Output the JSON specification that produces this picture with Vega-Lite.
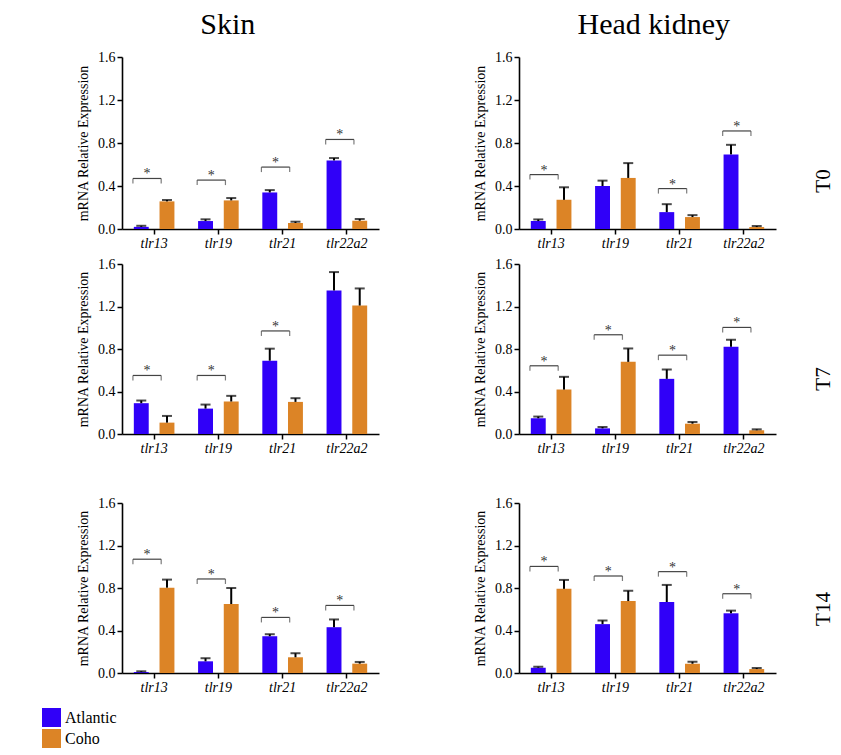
{
 "$schema": "https://vega.github.io/schema/vega-lite/v6.json",
 "padding": {"left": 42, "top": 10, "right": 0, "bottom": 0},
 "background": "white",
 "datasets": {
  "bars": [
   {"tissue": "Skin", "time": "T0", "gene": "tlr13", "species": "Atlantic", "mean": 0.02, "upper": 0.03},
   {"tissue": "Skin", "time": "T0", "gene": "tlr13", "species": "Coho", "mean": 0.257, "upper": 0.27},
   {"tissue": "Skin", "time": "T0", "gene": "tlr19", "species": "Atlantic", "mean": 0.074, "upper": 0.09},
   {"tissue": "Skin", "time": "T0", "gene": "tlr19", "species": "Coho", "mean": 0.266, "upper": 0.288},
   {"tissue": "Skin", "time": "T0", "gene": "tlr21", "species": "Atlantic", "mean": 0.34, "upper": 0.362},
   {"tissue": "Skin", "time": "T0", "gene": "tlr21", "species": "Coho", "mean": 0.056, "upper": 0.068},
   {"tissue": "Skin", "time": "T0", "gene": "tlr22a2", "species": "Atlantic", "mean": 0.638, "upper": 0.66},
   {"tissue": "Skin", "time": "T0", "gene": "tlr22a2", "species": "Coho", "mean": 0.077, "upper": 0.093},
   {"tissue": "Head kidney", "time": "T0", "gene": "tlr13", "species": "Atlantic", "mean": 0.074, "upper": 0.089},
   {"tissue": "Head kidney", "time": "T0", "gene": "tlr13", "species": "Coho", "mean": 0.271, "upper": 0.388},
   {"tissue": "Head kidney", "time": "T0", "gene": "tlr19", "species": "Atlantic", "mean": 0.4, "upper": 0.45},
   {"tissue": "Head kidney", "time": "T0", "gene": "tlr19", "species": "Coho", "mean": 0.475, "upper": 0.613},
   {"tissue": "Head kidney", "time": "T0", "gene": "tlr21", "species": "Atlantic", "mean": 0.157, "upper": 0.231},
   {"tissue": "Head kidney", "time": "T0", "gene": "tlr21", "species": "Coho", "mean": 0.111, "upper": 0.129},
   {"tissue": "Head kidney", "time": "T0", "gene": "tlr22a2", "species": "Atlantic", "mean": 0.694, "upper": 0.783},
   {"tissue": "Head kidney", "time": "T0", "gene": "tlr22a2", "species": "Coho", "mean": 0.018, "upper": 0.028},
   {"tissue": "Skin", "time": "T7", "gene": "tlr13", "species": "Atlantic", "mean": 0.29, "upper": 0.315},
   {"tissue": "Skin", "time": "T7", "gene": "tlr13", "species": "Coho", "mean": 0.107, "upper": 0.17},
   {"tissue": "Skin", "time": "T7", "gene": "tlr19", "species": "Atlantic", "mean": 0.239, "upper": 0.277},
   {"tissue": "Skin", "time": "T7", "gene": "tlr19", "species": "Coho", "mean": 0.306, "upper": 0.359},
   {"tissue": "Skin", "time": "T7", "gene": "tlr21", "species": "Atlantic", "mean": 0.69, "upper": 0.803},
   {"tissue": "Skin", "time": "T7", "gene": "tlr21", "species": "Coho", "mean": 0.302, "upper": 0.337},
   {"tissue": "Skin", "time": "T7", "gene": "tlr22a2", "species": "Atlantic", "mean": 1.351, "upper": 1.524},
   {"tissue": "Skin", "time": "T7", "gene": "tlr22a2", "species": "Coho", "mean": 1.209, "upper": 1.37},
   {"tissue": "Head kidney", "time": "T7", "gene": "tlr13", "species": "Atlantic", "mean": 0.148, "upper": 0.164},
   {"tissue": "Head kidney", "time": "T7", "gene": "tlr13", "species": "Coho", "mean": 0.418, "upper": 0.538},
   {"tissue": "Head kidney", "time": "T7", "gene": "tlr19", "species": "Atlantic", "mean": 0.053, "upper": 0.066},
   {"tissue": "Head kidney", "time": "T7", "gene": "tlr19", "species": "Coho", "mean": 0.679, "upper": 0.805},
   {"tissue": "Head kidney", "time": "T7", "gene": "tlr21", "species": "Atlantic", "mean": 0.519, "upper": 0.607},
   {"tissue": "Head kidney", "time": "T7", "gene": "tlr21", "species": "Coho", "mean": 0.097, "upper": 0.113},
   {"tissue": "Head kidney", "time": "T7", "gene": "tlr22a2", "species": "Atlantic", "mean": 0.821, "upper": 0.887},
   {"tissue": "Head kidney", "time": "T7", "gene": "tlr22a2", "species": "Coho", "mean": 0.035, "upper": 0.044},
   {"tissue": "Skin", "time": "T14", "gene": "tlr13", "species": "Atlantic", "mean": 0.009, "upper": 0.016},
   {"tissue": "Skin", "time": "T14", "gene": "tlr13", "species": "Coho", "mean": 0.803, "upper": 0.879},
   {"tissue": "Skin", "time": "T14", "gene": "tlr19", "species": "Atlantic", "mean": 0.11, "upper": 0.139},
   {"tissue": "Skin", "time": "T14", "gene": "tlr19", "species": "Coho", "mean": 0.649, "upper": 0.8},
   {"tissue": "Skin", "time": "T14", "gene": "tlr21", "species": "Atlantic", "mean": 0.346, "upper": 0.365},
   {"tissue": "Skin", "time": "T14", "gene": "tlr21", "species": "Coho", "mean": 0.148, "upper": 0.186},
   {"tissue": "Skin", "time": "T14", "gene": "tlr22a2", "species": "Atlantic", "mean": 0.431, "upper": 0.504},
   {"tissue": "Skin", "time": "T14", "gene": "tlr22a2", "species": "Coho", "mean": 0.088, "upper": 0.104},
   {"tissue": "Head kidney", "time": "T14", "gene": "tlr13", "species": "Atlantic", "mean": 0.05, "upper": 0.059},
   {"tissue": "Head kidney", "time": "T14", "gene": "tlr13", "species": "Coho", "mean": 0.792, "upper": 0.876},
   {"tissue": "Head kidney", "time": "T14", "gene": "tlr19", "species": "Atlantic", "mean": 0.46, "upper": 0.494},
   {"tissue": "Head kidney", "time": "T14", "gene": "tlr19", "species": "Coho", "mean": 0.677, "upper": 0.774},
   {"tissue": "Head kidney", "time": "T14", "gene": "tlr21", "species": "Atlantic", "mean": 0.668, "upper": 0.829},
   {"tissue": "Head kidney", "time": "T14", "gene": "tlr21", "species": "Coho", "mean": 0.087, "upper": 0.106},
   {"tissue": "Head kidney", "time": "T14", "gene": "tlr22a2", "species": "Atlantic", "mean": 0.562, "upper": 0.587},
   {"tissue": "Head kidney", "time": "T14", "gene": "tlr22a2", "species": "Coho", "mean": 0.037, "upper": 0.047}
  ],
  "sig": [
   {"tissue": "Skin", "time": "T0", "gene": "tlr13", "y": 0.47},
   {"tissue": "Skin", "time": "T0", "gene": "tlr19", "y": 0.455},
   {"tissue": "Skin", "time": "T0", "gene": "tlr21", "y": 0.576},
   {"tissue": "Skin", "time": "T0", "gene": "tlr22a2", "y": 0.833},
   {"tissue": "Head kidney", "time": "T0", "gene": "tlr13", "y": 0.506},
   {"tissue": "Head kidney", "time": "T0", "gene": "tlr21", "y": 0.376},
   {"tissue": "Head kidney", "time": "T0", "gene": "tlr22a2", "y": 0.912},
   {"tissue": "Skin", "time": "T7", "gene": "tlr13", "y": 0.551},
   {"tissue": "Skin", "time": "T7", "gene": "tlr19", "y": 0.551},
   {"tissue": "Skin", "time": "T7", "gene": "tlr21", "y": 0.97},
   {"tissue": "Head kidney", "time": "T7", "gene": "tlr13", "y": 0.642},
   {"tissue": "Head kidney", "time": "T7", "gene": "tlr19", "y": 0.934},
   {"tissue": "Head kidney", "time": "T7", "gene": "tlr21", "y": 0.742},
   {"tissue": "Head kidney", "time": "T7", "gene": "tlr22a2", "y": 1.003},
   {"tissue": "Skin", "time": "T14", "gene": "tlr13", "y": 1.071},
   {"tissue": "Skin", "time": "T14", "gene": "tlr19", "y": 0.885},
   {"tissue": "Skin", "time": "T14", "gene": "tlr21", "y": 0.523},
   {"tissue": "Skin", "time": "T14", "gene": "tlr22a2", "y": 0.636},
   {"tissue": "Head kidney", "time": "T14", "gene": "tlr13", "y": 1.003},
   {"tissue": "Head kidney", "time": "T14", "gene": "tlr19", "y": 0.913},
   {"tissue": "Head kidney", "time": "T14", "gene": "tlr21", "y": 0.954},
   {"tissue": "Head kidney", "time": "T14", "gene": "tlr22a2", "y": 0.746}
  ]
 },
 "hconcat": [
  {
   "title": {"text": "Skin", "fontSize": 30, "fontWeight": "normal", "anchor": "middle", "offset": 10},
   "spacing": 41,
   "vconcat": [
    {
     "spacing": 7,
     "vconcat": [
      {
       "width": 257, "height": 172,
       "encoding": {
        "x": {"field": "gene", "type": "nominal", "scale": {"domain": ["tlr13", "tlr19", "tlr21", "tlr22a2"], "paddingInner": 0, "paddingOuter": 0}, "axis": {"title": null, "labelAngle": 0, "labelFontStyle": "italic", "labelFont": "Liberation Serif"}},
        "y": {"field": "mean", "type": "quantitative", "scale": {"domain": [0, 1.6]}, "axis": {"values": [0, 0.4, 0.8, 1.2, 1.6], "format": ".1f", "title": "mRNA Relative Expression", "titlePadding": 7, "labelFont": "Liberation Serif", "titleFont": "Liberation Serif"}}
       },
       "layer": [
        {"data": {"name": "bars"}, "transform": [{"filter": "datum.tissue == 'Skin' && datum.time == 'T0'"}],
         "layer": [
          {"mark": {"type": "bar"}, "encoding": {"xOffset": {"field": "species", "type": "nominal", "scale": {"domain": ["Atlantic", "Coho"], "paddingInner": 0.42, "paddingOuter": 0.46}}, "color": {"field": "species", "type": "nominal", "title": null, "scale": {"domain": ["Atlantic", "Coho"], "range": ["#3000f8", "#dc8426"]}, "legend": {"labelFont": "Liberation Serif"}}}},
          {"mark": {"type": "rule", "color": "#000", "strokeWidth": 2}, "encoding": {"xOffset": {"field": "species", "type": "nominal"}, "y2": {"field": "upper"}}},
          {"mark": {"type": "tick", "orient": "horizontal", "color": "#000", "thickness": 2, "size": 10}, "encoding": {"xOffset": {"field": "species", "type": "nominal"}, "y": {"field": "upper", "type": "quantitative"}}}
         ]},
        {"data": {"name": "sig"}, "transform": [{"filter": "datum.tissue == 'Skin' && datum.time == 'T0'"}],
         "encoding": {"y": {"field": "y", "type": "quantitative"}},
         "layer": [
          {"mark": {"type": "rule", "color": "#444", "strokeWidth": 1.2}, "encoding": {"x": {"field": "gene", "type": "nominal", "bandPosition": 0.17}, "x2": {"field": "gene", "bandPosition": 0.61}}},
          {"mark": {"type": "tick", "orient": "vertical", "color": "#444", "thickness": 1.2, "size": 5, "yOffset": 2.5}, "encoding": {"x": {"field": "gene", "type": "nominal", "bandPosition": 0.17}}},
          {"mark": {"type": "tick", "orient": "vertical", "color": "#444", "thickness": 1.2, "size": 5, "yOffset": 2.5}, "encoding": {"x": {"field": "gene", "type": "nominal", "bandPosition": 0.61}}},
          {"mark": {"type": "text", "text": "*", "fontSize": 14, "baseline": "alphabetic", "color": "#333"}, "encoding": {"x": {"field": "gene", "type": "nominal", "bandPosition": 0.39}}}
         ]}
       ]
      },
      {
       "width": 257, "height": 170,
       "encoding": {
        "x": {"field": "gene", "type": "nominal", "scale": {"domain": ["tlr13", "tlr19", "tlr21", "tlr22a2"], "paddingInner": 0, "paddingOuter": 0}, "axis": {"title": null, "labelAngle": 0, "labelFontStyle": "italic", "labelFont": "Liberation Serif"}},
        "y": {"field": "mean", "type": "quantitative", "scale": {"domain": [0, 1.6]}, "axis": {"values": [0, 0.4, 0.8, 1.2, 1.6], "format": ".1f", "title": "mRNA Relative Expression", "titlePadding": 7, "labelFont": "Liberation Serif", "titleFont": "Liberation Serif"}}
       },
       "layer": [
        {"data": {"name": "bars"}, "transform": [{"filter": "datum.tissue == 'Skin' && datum.time == 'T7'"}],
         "layer": [
          {"mark": {"type": "bar"}, "encoding": {"xOffset": {"field": "species", "type": "nominal", "scale": {"domain": ["Atlantic", "Coho"], "paddingInner": 0.42, "paddingOuter": 0.46}}, "color": {"field": "species", "type": "nominal", "title": null, "scale": {"domain": ["Atlantic", "Coho"], "range": ["#3000f8", "#dc8426"]}, "legend": {"labelFont": "Liberation Serif"}}}},
          {"mark": {"type": "rule", "color": "#000", "strokeWidth": 2}, "encoding": {"xOffset": {"field": "species", "type": "nominal"}, "y2": {"field": "upper"}}},
          {"mark": {"type": "tick", "orient": "horizontal", "color": "#000", "thickness": 2, "size": 10}, "encoding": {"xOffset": {"field": "species", "type": "nominal"}, "y": {"field": "upper", "type": "quantitative"}}}
         ]},
        {"data": {"name": "sig"}, "transform": [{"filter": "datum.tissue == 'Skin' && datum.time == 'T7'"}],
         "encoding": {"y": {"field": "y", "type": "quantitative"}},
         "layer": [
          {"mark": {"type": "rule", "color": "#444", "strokeWidth": 1.2}, "encoding": {"x": {"field": "gene", "type": "nominal", "bandPosition": 0.17}, "x2": {"field": "gene", "bandPosition": 0.61}}},
          {"mark": {"type": "tick", "orient": "vertical", "color": "#444", "thickness": 1.2, "size": 5, "yOffset": 2.5}, "encoding": {"x": {"field": "gene", "type": "nominal", "bandPosition": 0.17}}},
          {"mark": {"type": "tick", "orient": "vertical", "color": "#444", "thickness": 1.2, "size": 5, "yOffset": 2.5}, "encoding": {"x": {"field": "gene", "type": "nominal", "bandPosition": 0.61}}},
          {"mark": {"type": "text", "text": "*", "fontSize": 14, "baseline": "alphabetic", "color": "#333"}, "encoding": {"x": {"field": "gene", "type": "nominal", "bandPosition": 0.39}}}
         ]}
       ]
      }
     ]
    },
    {
     "width": 257, "height": 170,
     "encoding": {
      "x": {"field": "gene", "type": "nominal", "scale": {"domain": ["tlr13", "tlr19", "tlr21", "tlr22a2"], "paddingInner": 0, "paddingOuter": 0}, "axis": {"title": null, "labelAngle": 0, "labelFontStyle": "italic", "labelFont": "Liberation Serif"}},
      "y": {"field": "mean", "type": "quantitative", "scale": {"domain": [0, 1.6]}, "axis": {"values": [0, 0.4, 0.8, 1.2, 1.6], "format": ".1f", "title": "mRNA Relative Expression", "titlePadding": 7, "labelFont": "Liberation Serif", "titleFont": "Liberation Serif"}}
     },
     "layer": [
      {"data": {"name": "bars"}, "transform": [{"filter": "datum.tissue == 'Skin' && datum.time == 'T14'"}],
       "layer": [
        {"mark": {"type": "bar"}, "encoding": {"xOffset": {"field": "species", "type": "nominal", "scale": {"domain": ["Atlantic", "Coho"], "paddingInner": 0.42, "paddingOuter": 0.46}}, "color": {"field": "species", "type": "nominal", "title": null, "scale": {"domain": ["Atlantic", "Coho"], "range": ["#3000f8", "#dc8426"]}, "legend": {"labelFont": "Liberation Serif"}}}},
        {"mark": {"type": "rule", "color": "#000", "strokeWidth": 2}, "encoding": {"xOffset": {"field": "species", "type": "nominal"}, "y2": {"field": "upper"}}},
        {"mark": {"type": "tick", "orient": "horizontal", "color": "#000", "thickness": 2, "size": 10}, "encoding": {"xOffset": {"field": "species", "type": "nominal"}, "y": {"field": "upper", "type": "quantitative"}}}
       ]},
      {"data": {"name": "sig"}, "transform": [{"filter": "datum.tissue == 'Skin' && datum.time == 'T14'"}],
       "encoding": {"y": {"field": "y", "type": "quantitative"}},
       "layer": [
        {"mark": {"type": "rule", "color": "#444", "strokeWidth": 1.2}, "encoding": {"x": {"field": "gene", "type": "nominal", "bandPosition": 0.17}, "x2": {"field": "gene", "bandPosition": 0.61}}},
        {"mark": {"type": "tick", "orient": "vertical", "color": "#444", "thickness": 1.2, "size": 5, "yOffset": 2.5}, "encoding": {"x": {"field": "gene", "type": "nominal", "bandPosition": 0.17}}},
        {"mark": {"type": "tick", "orient": "vertical", "color": "#444", "thickness": 1.2, "size": 5, "yOffset": 2.5}, "encoding": {"x": {"field": "gene", "type": "nominal", "bandPosition": 0.61}}},
        {"mark": {"type": "text", "text": "*", "fontSize": 14, "baseline": "alphabetic", "color": "#333"}, "encoding": {"x": {"field": "gene", "type": "nominal", "bandPosition": 0.39}}}
       ]}
     ]
    }
   ]
  },
  {
   "title": {"text": "Head kidney", "fontSize": 30, "fontWeight": "normal", "anchor": "middle", "offset": 10},
   "spacing": 41,
   "vconcat": [
    {
     "spacing": 7,
     "vconcat": [
      {
       "width": 257, "height": 172,
       "title": {"text": "T0", "orient": "right", "angle": -90, "fontSize": 21, "fontWeight": "normal", "offset": 16, "dx": -38},
       "encoding": {
        "x": {"field": "gene", "type": "nominal", "scale": {"domain": ["tlr13", "tlr19", "tlr21", "tlr22a2"], "paddingInner": 0, "paddingOuter": 0}, "axis": {"title": null, "labelAngle": 0, "labelFontStyle": "italic", "labelFont": "Liberation Serif"}},
        "y": {"field": "mean", "type": "quantitative", "scale": {"domain": [0, 1.6]}, "axis": {"values": [0, 0.4, 0.8, 1.2, 1.6], "format": ".1f", "title": "mRNA Relative Expression", "titlePadding": 7, "labelFont": "Liberation Serif", "titleFont": "Liberation Serif"}}
       },
       "layer": [
        {"data": {"name": "bars"}, "transform": [{"filter": "datum.tissue == 'Head kidney' && datum.time == 'T0'"}],
         "layer": [
          {"mark": {"type": "bar"}, "encoding": {"xOffset": {"field": "species", "type": "nominal", "scale": {"domain": ["Atlantic", "Coho"], "paddingInner": 0.42, "paddingOuter": 0.46}}, "color": {"field": "species", "type": "nominal", "title": null, "scale": {"domain": ["Atlantic", "Coho"], "range": ["#3000f8", "#dc8426"]}, "legend": {"labelFont": "Liberation Serif"}}}},
          {"mark": {"type": "rule", "color": "#000", "strokeWidth": 2}, "encoding": {"xOffset": {"field": "species", "type": "nominal"}, "y2": {"field": "upper"}}},
          {"mark": {"type": "tick", "orient": "horizontal", "color": "#000", "thickness": 2, "size": 10}, "encoding": {"xOffset": {"field": "species", "type": "nominal"}, "y": {"field": "upper", "type": "quantitative"}}}
         ]},
        {"data": {"name": "sig"}, "transform": [{"filter": "datum.tissue == 'Head kidney' && datum.time == 'T0'"}],
         "encoding": {"y": {"field": "y", "type": "quantitative"}},
         "layer": [
          {"mark": {"type": "rule", "color": "#444", "strokeWidth": 1.2}, "encoding": {"x": {"field": "gene", "type": "nominal", "bandPosition": 0.17}, "x2": {"field": "gene", "bandPosition": 0.61}}},
          {"mark": {"type": "tick", "orient": "vertical", "color": "#444", "thickness": 1.2, "size": 5, "yOffset": 2.5}, "encoding": {"x": {"field": "gene", "type": "nominal", "bandPosition": 0.17}}},
          {"mark": {"type": "tick", "orient": "vertical", "color": "#444", "thickness": 1.2, "size": 5, "yOffset": 2.5}, "encoding": {"x": {"field": "gene", "type": "nominal", "bandPosition": 0.61}}},
          {"mark": {"type": "text", "text": "*", "fontSize": 14, "baseline": "alphabetic", "color": "#333"}, "encoding": {"x": {"field": "gene", "type": "nominal", "bandPosition": 0.39}}}
         ]}
       ]
      },
      {
       "width": 257, "height": 170,
       "title": {"text": "T7", "orient": "right", "angle": -90, "fontSize": 21, "fontWeight": "normal", "offset": 16, "dx": -30},
       "encoding": {
        "x": {"field": "gene", "type": "nominal", "scale": {"domain": ["tlr13", "tlr19", "tlr21", "tlr22a2"], "paddingInner": 0, "paddingOuter": 0}, "axis": {"title": null, "labelAngle": 0, "labelFontStyle": "italic", "labelFont": "Liberation Serif"}},
        "y": {"field": "mean", "type": "quantitative", "scale": {"domain": [0, 1.6]}, "axis": {"values": [0, 0.4, 0.8, 1.2, 1.6], "format": ".1f", "title": "mRNA Relative Expression", "titlePadding": 7, "labelFont": "Liberation Serif", "titleFont": "Liberation Serif"}}
       },
       "layer": [
        {"data": {"name": "bars"}, "transform": [{"filter": "datum.tissue == 'Head kidney' && datum.time == 'T7'"}],
         "layer": [
          {"mark": {"type": "bar"}, "encoding": {"xOffset": {"field": "species", "type": "nominal", "scale": {"domain": ["Atlantic", "Coho"], "paddingInner": 0.42, "paddingOuter": 0.46}}, "color": {"field": "species", "type": "nominal", "title": null, "scale": {"domain": ["Atlantic", "Coho"], "range": ["#3000f8", "#dc8426"]}, "legend": {"labelFont": "Liberation Serif"}}}},
          {"mark": {"type": "rule", "color": "#000", "strokeWidth": 2}, "encoding": {"xOffset": {"field": "species", "type": "nominal"}, "y2": {"field": "upper"}}},
          {"mark": {"type": "tick", "orient": "horizontal", "color": "#000", "thickness": 2, "size": 10}, "encoding": {"xOffset": {"field": "species", "type": "nominal"}, "y": {"field": "upper", "type": "quantitative"}}}
         ]},
        {"data": {"name": "sig"}, "transform": [{"filter": "datum.tissue == 'Head kidney' && datum.time == 'T7'"}],
         "encoding": {"y": {"field": "y", "type": "quantitative"}},
         "layer": [
          {"mark": {"type": "rule", "color": "#444", "strokeWidth": 1.2}, "encoding": {"x": {"field": "gene", "type": "nominal", "bandPosition": 0.17}, "x2": {"field": "gene", "bandPosition": 0.61}}},
          {"mark": {"type": "tick", "orient": "vertical", "color": "#444", "thickness": 1.2, "size": 5, "yOffset": 2.5}, "encoding": {"x": {"field": "gene", "type": "nominal", "bandPosition": 0.17}}},
          {"mark": {"type": "tick", "orient": "vertical", "color": "#444", "thickness": 1.2, "size": 5, "yOffset": 2.5}, "encoding": {"x": {"field": "gene", "type": "nominal", "bandPosition": 0.61}}},
          {"mark": {"type": "text", "text": "*", "fontSize": 14, "baseline": "alphabetic", "color": "#333"}, "encoding": {"x": {"field": "gene", "type": "nominal", "bandPosition": 0.39}}}
         ]}
       ]
      }
     ]
    },
    {
     "width": 257, "height": 170,
     "title": {"text": "T14", "orient": "right", "angle": -90, "fontSize": 21, "fontWeight": "normal", "offset": 16, "dx": -21},
     "encoding": {
      "x": {"field": "gene", "type": "nominal", "scale": {"domain": ["tlr13", "tlr19", "tlr21", "tlr22a2"], "paddingInner": 0, "paddingOuter": 0}, "axis": {"title": null, "labelAngle": 0, "labelFontStyle": "italic", "labelFont": "Liberation Serif"}},
      "y": {"field": "mean", "type": "quantitative", "scale": {"domain": [0, 1.6]}, "axis": {"values": [0, 0.4, 0.8, 1.2, 1.6], "format": ".1f", "title": "mRNA Relative Expression", "titlePadding": 7, "labelFont": "Liberation Serif", "titleFont": "Liberation Serif"}}
     },
     "layer": [
      {"data": {"name": "bars"}, "transform": [{"filter": "datum.tissue == 'Head kidney' && datum.time == 'T14'"}],
       "layer": [
        {"mark": {"type": "bar"}, "encoding": {"xOffset": {"field": "species", "type": "nominal", "scale": {"domain": ["Atlantic", "Coho"], "paddingInner": 0.42, "paddingOuter": 0.46}}, "color": {"field": "species", "type": "nominal", "title": null, "scale": {"domain": ["Atlantic", "Coho"], "range": ["#3000f8", "#dc8426"]}, "legend": {"labelFont": "Liberation Serif"}}}},
        {"mark": {"type": "rule", "color": "#000", "strokeWidth": 2}, "encoding": {"xOffset": {"field": "species", "type": "nominal"}, "y2": {"field": "upper"}}},
        {"mark": {"type": "tick", "orient": "horizontal", "color": "#000", "thickness": 2, "size": 10}, "encoding": {"xOffset": {"field": "species", "type": "nominal"}, "y": {"field": "upper", "type": "quantitative"}}}
       ]},
      {"data": {"name": "sig"}, "transform": [{"filter": "datum.tissue == 'Head kidney' && datum.time == 'T14'"}],
       "encoding": {"y": {"field": "y", "type": "quantitative"}},
       "layer": [
        {"mark": {"type": "rule", "color": "#444", "strokeWidth": 1.2}, "encoding": {"x": {"field": "gene", "type": "nominal", "bandPosition": 0.17}, "x2": {"field": "gene", "bandPosition": 0.61}}},
        {"mark": {"type": "tick", "orient": "vertical", "color": "#444", "thickness": 1.2, "size": 5, "yOffset": 2.5}, "encoding": {"x": {"field": "gene", "type": "nominal", "bandPosition": 0.17}}},
        {"mark": {"type": "tick", "orient": "vertical", "color": "#444", "thickness": 1.2, "size": 5, "yOffset": 2.5}, "encoding": {"x": {"field": "gene", "type": "nominal", "bandPosition": 0.61}}},
        {"mark": {"type": "text", "text": "*", "fontSize": 14, "baseline": "alphabetic", "color": "#333"}, "encoding": {"x": {"field": "gene", "type": "nominal", "bandPosition": 0.39}}}
       ]}
     ]
    }
   ]
  }
 ],
 "spacing": 94,
 "config": {
  "font": "Liberation Serif",
  "view": {"stroke": null},
  "title": {"color": "#000", "font": "Liberation Serif"},
  "text": {"font": "Liberation Serif"},
  "style": {"guide-label": {"font": "Liberation Serif"}, "guide-title": {"font": "Liberation Serif"}},
  "axis": {"domainColor": "#000", "domainWidth": 1.6, "tickColor": "#000", "tickWidth": 1.5, "tickSize": 5, "labelColor": "#000", "labelFontSize": 14, "labelFont": "Liberation Serif", "titleFont": "Liberation Serif", "titleFontSize": 14, "titleFontWeight": "normal", "titleColor": "#000", "grid": false},
  "legend": {"orient": "none", "legendX": -80, "legendY": 651, "symbolType": "square", "symbolSize": 360, "symbolStrokeWidth": 0, "symbolOpacity": 1, "labelFontSize": 16, "labelFont": "Liberation Serif", "labelColor": "#000", "rowPadding": 2, "padding": 0}
 }
}
